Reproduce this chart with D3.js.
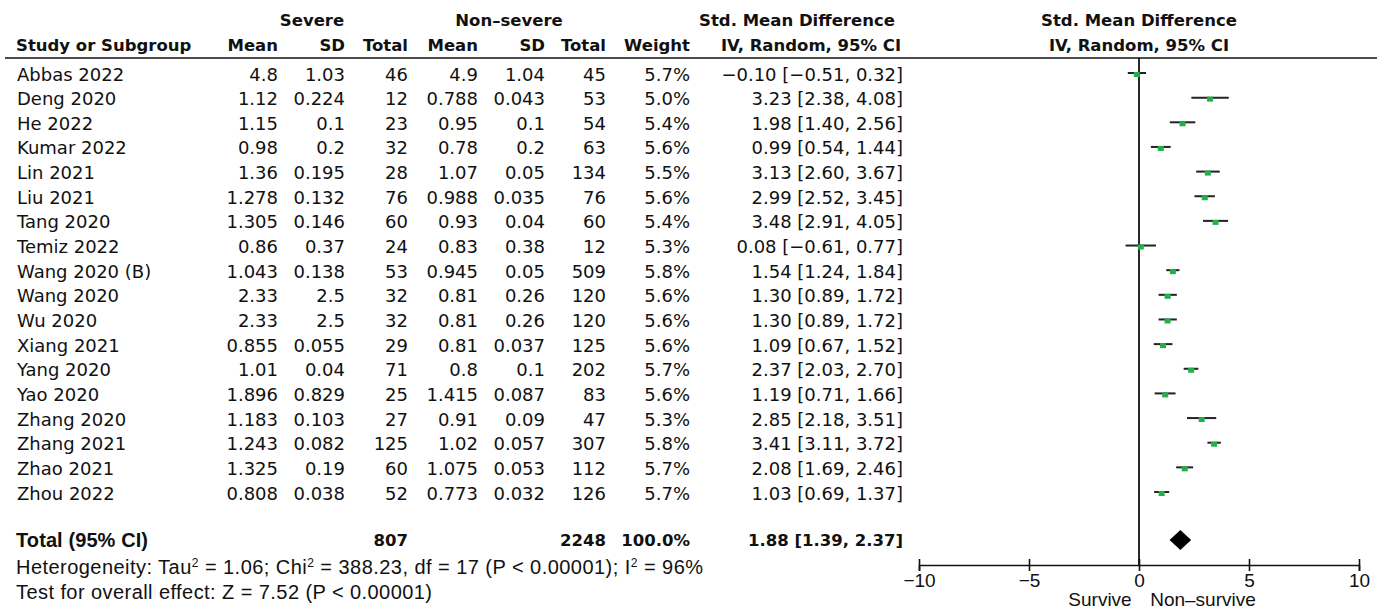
<!DOCTYPE html>
<html><head><meta charset="utf-8">
<script src="https://cdn.jsdelivr.net/npm/d3@7"></script>
<style>body{margin:0;background:#fff}svg{display:block}</style>
</head><body>
<svg id="c" width="1386" height="610"></svg>
<script>
const studies = ["Abbas 2022","Deng 2020","He 2022","Kumar 2022","Lin 2021","Liu 2021","Tang 2020","Temiz 2022","Wang 2020 (B)","Wang 2020","Wu 2020","Xiang 2021","Yang 2020","Yao 2020","Zhang 2020","Zhang 2021","Zhao 2021","Zhou 2022"];
const severeMean = ["4.8","1.12","1.15","0.98","1.36","1.278","1.305","0.86","1.043","2.33","2.33","0.855","1.01","1.896","1.183","1.243","1.325","0.808"];
const severeSD = ["1.03","0.224","0.1","0.2","0.195","0.132","0.146","0.37","0.138","2.5","2.5","0.055","0.04","0.829","0.103","0.082","0.19","0.038"];
const severeN = [46,12,23,32,28,76,60,24,53,32,32,29,71,25,27,125,60,52];
const nonMean = ["4.9","0.788","0.95","0.78","1.07","0.988","0.93","0.83","0.945","0.81","0.81","0.81","0.8","1.415","0.91","1.02","1.075","0.773"];
const nonSD = ["1.04","0.043","0.1","0.2","0.05","0.035","0.04","0.38","0.05","0.26","0.26","0.037","0.1","0.087","0.09","0.057","0.053","0.032"];
const nonN = [45,53,54,63,134,76,60,12,509,120,120,125,202,83,47,307,112,126];
const weight = [5.7,5.0,5.4,5.6,5.5,5.6,5.4,5.3,5.8,5.6,5.6,5.6,5.7,5.6,5.3,5.8,5.7,5.7];
const smd = [-0.10,3.23,1.98,0.99,3.13,2.99,3.48,0.08,1.54,1.30,1.30,1.09,2.37,1.19,2.85,3.41,2.08,1.03];
const ciLow = [-0.51,2.38,1.40,0.54,2.60,2.52,2.91,-0.61,1.24,0.89,0.89,0.67,2.03,0.71,2.18,3.11,1.69,0.69];
const ciHigh = [0.32,4.08,2.56,1.44,3.67,3.45,4.05,0.77,1.84,1.72,1.72,1.52,2.70,1.66,3.51,3.72,2.46,1.37];
const total = {severeN:807, nonN:2248, weight:100.0, smd:1.88, lo:1.39, hi:2.37};
const axisTicks = [-10,-5,0,5,10];
const favourLabels = ["Survive","Non\u2013survive"];

const svg = d3.select("#c");
const TF = "DejaVu Sans, Verdana, sans-serif";
const HF = "Liberation Sans, Arial, sans-serif";
const fsB = 16.5, fsR = 18;
const x = d3.scaleLinear().domain([-10,10]).range([919,1359]);
const y = d3.scaleLinear().domain([0,17]).range([74,493]);
const fmt2 = v => (v<0?"\u2212":"") + Math.abs(v).toFixed(2);
const minus = s => s.replace("-","\u2212");

function txt(xp, yp, s, anchor, bold, font, size){
  return svg.append("text").attr("x",xp).attr("y",yp).attr("text-anchor",anchor||"start")
    .attr("font-family",font||TF).attr("font-size",size||(bold?fsB:fsR)).attr("font-weight",bold?"bold":"normal")
    .attr("fill","#111").text(s);
}
// headers
txt(312,26,"Severe","middle",true);
txt(509,26,"Non\u2013severe","middle",true);
txt(797,26,"Std. Mean Difference","middle",true);
txt(1139,26,"Std. Mean Difference","middle",true);
const r2 = 51;
txt(16,r2,"Study or Subgroup","start",true);
[[278,"Mean"],[345,"SD"],[408,"Total"],[478,"Mean"],[545,"SD"],[606,"Total"],[690,"Weight"]].forEach(d=>txt(d[0],r2,d[1],"end",true));
txt(811,r2,"IV, Random, 95% CI","middle",true);
txt(1139,r2,"IV, Random, 95% CI","middle",true);
svg.append("line").attr("x1",5).attr("x2",1377).attr("y1",58).attr("y2",58).attr("stroke","#111").attr("stroke-width",1.6);

// rows
studies.forEach((s,i)=>{
  const yy = y(i)+6.5;
  txt(17,yy,s);
  txt(278,yy,severeMean[i],"end");
  txt(345,yy,severeSD[i],"end");
  txt(408,yy,severeN[i],"end");
  txt(478,yy,nonMean[i],"end");
  txt(545,yy,nonSD[i],"end");
  txt(606,yy,nonN[i],"end");
  txt(690,yy,weight[i].toFixed(1)+"%","end");
  txt(903,yy,`${fmt2(smd[i])} [${fmt2(ciLow[i])}, ${fmt2(ciHigh[i])}]`,"end");
});

// zero line
svg.append("line").attr("x1",x(0)).attr("x2",x(0)).attr("y1",58).attr("y2",565).attr("stroke","#111").attr("stroke-width",1.8);

// CIs
svg.append("g").selectAll("line").data(studies).join("line")
  .attr("x1",(d,i)=>x(ciLow[i])).attr("x2",(d,i)=>x(ciHigh[i]))
  .attr("y1",(d,i)=>y(i)-1).attr("y2",(d,i)=>y(i)-1).attr("stroke","#222").attr("stroke-width",2);
svg.append("g").selectAll("rect").data(studies).join("rect")
  .attr("x",(d,i)=>x(smd[i])-3).attr("y",(d,i)=>y(i)-2).attr("width",6).attr("height",5).attr("fill","#22b04a");

// total row
const ty = 540;
txt(16,ty+7,"Total (95% CI)","start",true,HF,20).attr("textLength",132);
txt(408,ty+6,total.severeN,"end",true);
txt(606,ty+6,total.nonN,"end",true);
txt(690,ty+6,total.weight.toFixed(1)+"%","end",true);
txt(903,ty+6,`${fmt2(total.smd)} [${fmt2(total.lo)}, ${fmt2(total.hi)}]`,"end",true);
svg.append("path").attr("d",`M${x(total.lo)},${ty} L${x(total.smd)},${ty-10} L${x(total.hi)},${ty} L${x(total.smd)},${ty+10} Z`).attr("fill","#000");

// footnotes
const h = svg.append("text").attr("x",16).attr("y",574).attr("font-family",HF).attr("font-size",20).attr("fill","#111")
  .attr("textLength",687).attr("lengthAdjust","spacing");
h.append("tspan").text("Heterogeneity: Tau");
h.append("tspan").attr("dy",-7).attr("font-size",12).text("2");
h.append("tspan").attr("dy",7).text(" = 1.06; Chi");
h.append("tspan").attr("dy",-7).attr("font-size",12).text("2");
h.append("tspan").attr("dy",7).text(" = 388.23, df = 17 (P < 0.00001); I");
h.append("tspan").attr("dy",-7).attr("font-size",12).text("2");
h.append("tspan").attr("dy",7).text(" = 96%");
txt(16,599,"Test for overall effect: Z = 7.52 (P < 0.00001)","start",false,HF,20).attr("textLength",416).attr("lengthAdjust","spacing");

// axis
const ax = svg.append("g").attr("transform","translate(0,565)")
  .call(d3.axisBottom(x).tickValues(axisTicks).tickSize(6).tickFormat(d=>minus(String(d))));
ax.select(".domain").attr("stroke","#111").attr("stroke-width",1.6);
ax.selectAll(".tick line").attr("stroke","#111").attr("stroke-width",1.6).attr("y1",-6).attr("y2",6);
ax.selectAll(".tick text").attr("font-family",HF).attr("font-size",19).attr("fill","#111").attr("y",9);
txt(1100,606,favourLabels[0],"middle",false,HF,19);
txt(1203,606,favourLabels[1],"middle",false,HF,19);
</script>
</body></html>
